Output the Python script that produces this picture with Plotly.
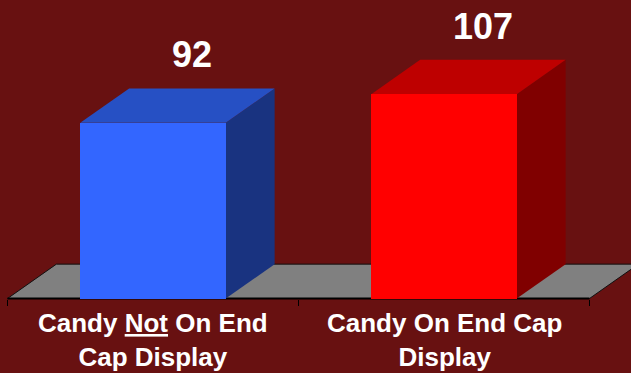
import plotly.graph_objects as go

# Data
categories = ["Candy <u>Not</u> On End<br>Cap Display", "Candy On End Cap<br>Display"]
values = [92, 107]
value_labels = ["92", "107"]

front_colors = ["#3366FF", "#FF0000"]
top_colors = ["#2650C4", "#BE0000"]
side_colors = ["#193380", "#800000"]

# Geometry of the pseudo-3D look (axis units)
bar_width = 0.5
depth_x = 0.168
depth_y = 18.0
x_range = [-0.5258, 1.6426]
y_range = [-39.0, 156.3]

BG = "#681111"
FONT = "Liberation Sans, Arial, sans-serif"

x_pos = list(range(len(values)))

fig = go.Figure()

# Front faces of the bars
fig.add_trace(go.Bar(
    x=x_pos, y=values, width=bar_width,
    marker=dict(color=front_colors, line=dict(width=0)),
    hoverinfo="skip", showlegend=False,
))


def path(points):
    return "M " + " L ".join(f"{px},{py}" for px, py in points) + " Z"


shapes = []

# Floor plane
fx0, fx1 = -0.5, len(values) - 0.5
shapes.append(dict(
    type="path", xref="x", yref="y", layer="below",
    path=path([(fx0, 0), (fx1, 0), (fx1 + depth_x, depth_y), (fx0 + depth_x, depth_y)]),
    fillcolor="#808080", line=dict(color="#111111", width=1),
))
shapes.append(dict(
    type="line", xref="x", yref="y", layer="below",
    x0=fx0, y0=0, x1=fx1, y1=0, line=dict(color="black", width=2),
))

# Top and side faces of each bar
for i, v in enumerate(values):
    xl = i - bar_width / 2
    xr = i + bar_width / 2
    shapes.append(dict(
        type="path", xref="x", yref="y", layer="below",
        path=path([(xr, 0), (xr + depth_x, depth_y), (xr + depth_x, v + depth_y), (xr, v)]),
        fillcolor=side_colors[i], line=dict(width=0),
    ))
    shapes.append(dict(
        type="path", xref="x", yref="y", layer="below",
        path=path([(xl, v), (xr, v), (xr + depth_x, v + depth_y), (xl + depth_x, v + depth_y)]),
        fillcolor=top_colors[i], line=dict(width=0),
    ))

annotations = []
for i, v in enumerate(values):
    annotations.append(dict(
        x=i + 0.135, y=v + depth_y, xref="x", yref="y",
        text=f"<b>{value_labels[i]}</b>", showarrow=False,
        yanchor="bottom", xanchor="center", yshift=11,
        font=dict(family=FONT, size=36, color="white"),
    ))
    annotations.append(dict(
        x=i, y=0, xref="x", yref="y",
        text=f"<b>{categories[i]}</b>", showarrow=False,
        yanchor="top", xanchor="center", yshift=-7,
        font=dict(family=FONT, size=26, color="white"),
    ))

axis_pos = (0 - y_range[0]) / (y_range[1] - y_range[0])

fig.update_layout(
    width=631, height=373,
    margin=dict(l=0, r=0, t=0, b=0),
    paper_bgcolor=BG, plot_bgcolor="rgba(0,0,0,0)",
    shapes=shapes, annotations=annotations,
    xaxis=dict(
        range=x_range, showgrid=False, zeroline=False, showline=False,
        showticklabels=False, anchor="free", position=axis_pos,
        tickmode="array", tickvals=[-0.5, 0.5, 1.5],
        ticks="outside", ticklen=6, tickwidth=1, tickcolor="black",
        fixedrange=True,
    ),
    yaxis=dict(range=y_range, visible=False, fixedrange=True),
    bargap=0,
)

fig.write_html("out.html", config={"displayModeBar": False})
